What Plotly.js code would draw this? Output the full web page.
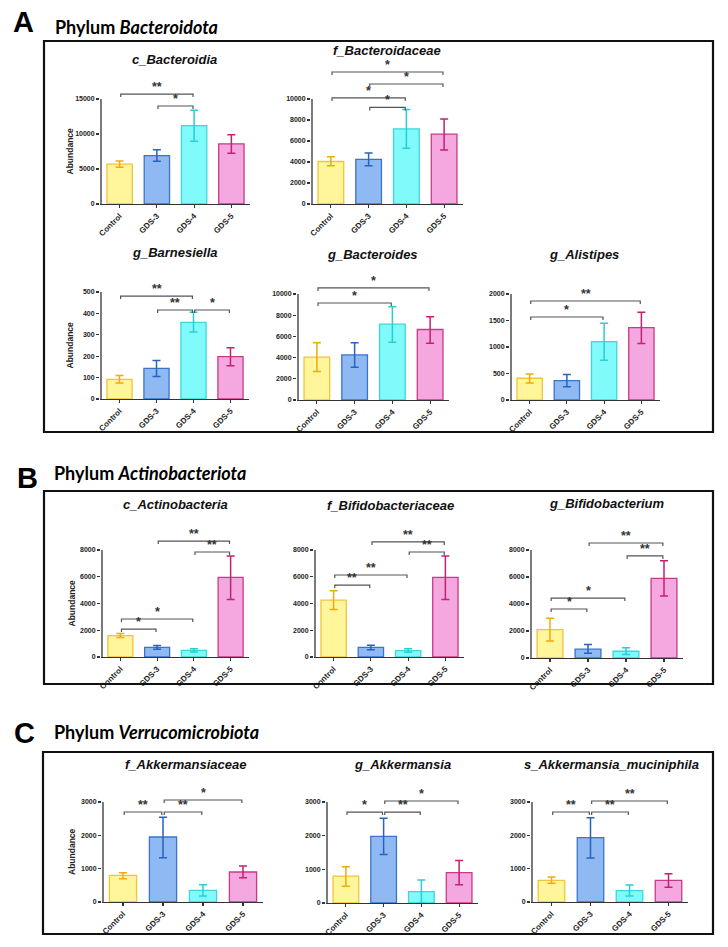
<!DOCTYPE html>
<html><head><meta charset="utf-8">
<script src="https://cdn.plot.ly/plotly-3.0.1.min.js"></script>
<style>html,body{margin:0;padding:0;background:#fff;} #chart{width:728px;height:947px;}</style>
</head><body><div id="chart"></div>
<script>
// ---------------- DATA ----------------
const groups = ['Control', 'GDS-3', 'GDS-4', 'GDS-5'];
const panelLetters = ['A', 'B', 'C'];
const phyla = ['Bacteroidota', 'Actinobacteriota', 'Verrucomicrobiota'];
const taxa = ['c_Bacteroidia', 'f_Bacteroidaceae', 'g_Barnesiella', 'g_Bacteroides', 'g_Alistipes',
  'c_Actinobacteria', 'f_Bifidobacteriaceae', 'g_Bifidobacterium',
  'f_Akkermansiaceae', 'g_Akkermansia', 's_Akkermansia_muciniphila'];
const yTitle = 'Abundance';

// mean, upper error end, lower error end
const mean_cBacteroidia = [5700, 6900, 11200, 8600];
const upper_cBacteroidia = [6150, 7750, 13400, 9900];
const lower_cBacteroidia = [5250, 6100, 8950, 7250];
const sig_cBacteroidia = [[0, 2, 15700, '**'], [1, 2, 14000, '*']];

const mean_fBacteroidaceae = [4050, 4250, 7150, 6650];
const upper_fBacteroidaceae = [4500, 4850, 9000, 8100];
const lower_fBacteroidaceae = [3650, 3650, 5300, 5150];
const sig_fBacteroidaceae = [[0, 3, 12570, '*'], [1, 3, 11430, '*'], [0, 2, 10100, '*'], [1, 2, 9200, '*']];

const mean_gBarnesiella = [92, 143, 358, 198];
const upper_gBarnesiella = [110, 180, 405, 240];
const lower_gBarnesiella = [75, 105, 313, 155];
const sig_gBarnesiella = [[0, 2, 481, '**'], [1, 2, 416, '**'], [2, 3, 416, '*']];

const mean_gBacteroides = [4050, 4250, 7150, 6650];
const upper_gBacteroides = [5400, 5400, 8800, 7850];
const lower_gBacteroides = [2700, 3100, 5450, 5350];
const sig_gBacteroides = [[0, 3, 10570, '*'], [0, 2, 9150, '*']];

const mean_gAlistipes = [410, 365, 1100, 1365];
const upper_gAlistipes = [490, 480, 1450, 1655];
const lower_gAlistipes = [320, 250, 750, 1065];
const sig_gAlistipes = [[0, 3, 1868, '**'], [0, 2, 1566, '*']];

const mean_cActinobacteria = [1600, 720, 500, 5950];
const upper_cActinobacteria = [1750, 860, 620, 7550];
const lower_cActinobacteria = [1450, 580, 380, 4300];
const sig_cActinobacteria = [[1, 3, 8670, '**'], [2, 3, 7850, '**'], [0, 2, 2840, '*'], [0, 1, 2090, '*']];

const mean_fBifidobacteriaceae = [4250, 720, 480, 5950];
const upper_fBifidobacteriaceae = [4950, 870, 620, 7550];
const lower_fBifidobacteriaceae = [3550, 550, 350, 4300];
const sig_fBifidobacteriaceae = [[1, 3, 8600, '**'], [2, 3, 7850, '**'], [0, 2, 6130, '**'], [0, 1, 5380, '**']];

const mean_gBifidobacterium = [2100, 650, 500, 5900];
const upper_gBifidobacterium = [2950, 1000, 750, 7200];
const lower_gBifidobacterium = [1250, 350, 250, 4600];
const sig_gBifidobacterium = [[1, 3, 8520, '**'], [2, 3, 7560, '**'], [0, 2, 4440, '*'], [0, 1, 3630, '*']];

const mean_fAkkermansiaceae = [800, 1950, 350, 900];
const upper_fAkkermansiaceae = [880, 2540, 520, 1080];
const lower_fAkkermansiaceae = [700, 1330, 180, 730];
const sig_fAkkermansiaceae = [[1, 3, 3060, '*'], [0, 1, 2700, '**'], [1, 2, 2700, '**']];

const mean_gAkkermansia = [800, 1980, 340, 900];
const upper_gAkkermansia = [1080, 2520, 680, 1260];
const lower_gAkkermansia = [500, 1440, 0, 540];
const sig_gAkkermansia = [[1, 3, 3030, '*'], [0, 1, 2700, '*'], [1, 2, 2700, '**']];

const mean_sAmuciniphila = [650, 1930, 340, 650];
const upper_sAmuciniphila = [750, 2530, 510, 850];
const lower_sAmuciniphila = [560, 1320, 180, 440];
const sig_sAmuciniphila = [[1, 3, 3030, '**'], [0, 1, 2700, '**'], [1, 2, 2700, '**']];

const yTopTicks = [15000, 10000, 500, 10000, 2000, 8000, 8000, 8000, 3000, 3000, 3000];
const yDticks = [5000, 2000, 100, 2000, 500, 2000, 2000, 2000, 1000, 1000, 1000];

const allMeans = [mean_cBacteroidia, mean_fBacteroidaceae, mean_gBarnesiella, mean_gBacteroides, mean_gAlistipes,
  mean_cActinobacteria, mean_fBifidobacteriaceae, mean_gBifidobacterium, mean_fAkkermansiaceae, mean_gAkkermansia, mean_sAmuciniphila];
const allUpper = [upper_cBacteroidia, upper_fBacteroidaceae, upper_gBarnesiella, upper_gBacteroides, upper_gAlistipes,
  upper_cActinobacteria, upper_fBifidobacteriaceae, upper_gBifidobacterium, upper_fAkkermansiaceae, upper_gAkkermansia, upper_sAmuciniphila];
const allLower = [lower_cBacteroidia, lower_fBacteroidaceae, lower_gBarnesiella, lower_gBacteroides, lower_gAlistipes,
  lower_cActinobacteria, lower_fBifidobacteriaceae, lower_gBifidobacterium, lower_fAkkermansiaceae, lower_gAkkermansia, lower_sAmuciniphila];
const allSig = [sig_cBacteroidia, sig_fBacteroidaceae, sig_gBarnesiella, sig_gBacteroides, sig_gAlistipes,
  sig_cActinobacteria, sig_fBifidobacteriaceae, sig_gBifidobacterium, sig_fAkkermansiaceae, sig_gAkkermansia, sig_sAmuciniphila];

// ---------------- LAYOUT GEOMETRY (pixels) ----------------
const W = 728, H = 947;
// l,r: x-axis extent; z: zero line y; t: top tick y; d: top of plot domain; tx,ty: title centre; yt: show y title
const geom = [
  {l: 101, r: 250, z: 204, t: 99, d: 70, tx: 174, ty: 59, yt: true},
  {l: 312, r: 463, z: 204, t: 99, d: 56, tx: 387, ty: 50, yt: false},
  {l: 101, r: 249, z: 399, t: 292, d: 275, tx: 175, ty: 253, yt: true},
  {l: 298, r: 449, z: 400, t: 294, d: 275, tx: 373, ty: 255, yt: false},
  {l: 511, r: 660, z: 400, t: 294, d: 280, tx: 584, ty: 255, yt: false},
  {l: 102, r: 249, z: 657, t: 550, d: 522, tx: 175, ty: 504, yt: true},
  {l: 315, r: 464, z: 657, t: 550, d: 522, tx: 390, ty: 506, yt: false},
  {l: 531, r: 683, z: 658, t: 550, d: 522, tx: 607, ty: 503, yt: false},
  {l: 103, r: 263, z: 902, t: 802, d: 782, tx: 185, ty: 764, yt: true},
  {l: 327, r: 478, z: 903, t: 802, d: 782, tx: 402, ty: 764, yt: false},
  {l: 532, r: 688, z: 902, t: 802, d: 782, tx: 611, ty: 764, yt: false}
];
const panelBoxes = [[44, 713, 41, 432], [44, 713, 491, 684], [43, 713, 752, 934]];
const panelLabelPos = [[23, 22, 53, 27], [27, 478, 52, 473], [24, 733, 52, 732]];

const fills = ['#FFF59A', '#8FB9F3', '#80FAFA', '#F5A8E0'];
const borders = ['#F2C43A', '#3A74CA', '#3ED6DA', '#C93A86'];
const errCols = ['#EFAA12', '#2A62BE', '#2ACDD4', '#C2226F'];
const FONT = 'Liberation Sans, Arial, sans-serif';
const axisCol = '#333333';

const traces = [];
const layout = {
  width: W, height: H, margin: {l: 0, r: 0, t: 0, b: 0},
  paper_bgcolor: '#ffffff', plot_bgcolor: 'rgba(0,0,0,0)',
  showlegend: false, barmode: 'overlay',
  font: {family: FONT, color: '#222'},
  shapes: [], annotations: []
};

geom.forEach((g, i) => {
  const k = i + 1;
  const xa = 'x' + (k > 1 ? k : ''), ya = 'y' + (k > 1 ? k : '');
  const top = yTopTicks[i];
  const pxPerUnitY = (g.z - g.t) / top;
  const R = (g.z - g.d) / pxPerUnitY;
  const pxPerCat = (g.r - g.l) / 4;
  const mean = allMeans[i], up = allUpper[i], lo = allLower[i];

  groups.forEach((grp, j) => {
    traces.push({
      type: 'bar', x: [j], y: [mean[j]], width: 0.68, xaxis: xa, yaxis: ya,
      marker: {color: fills[j], line: {color: borders[j], width: 1.3}},
      error_y: {type: 'data', symmetric: false, array: [up[j] - mean[j]], arrayminus: [mean[j] - lo[j]],
        color: errCols[j], thickness: 1.5, width: 4},
      hoverinfo: 'skip', name: grp
    });
  });
  // y-axis line up to top tick (Prism style)
  traces.push({type: 'scatter', mode: 'lines', x: [-0.5, -0.5], y: [0, top], xaxis: xa, yaxis: ya,
    line: {color: axisCol, width: 1.3}, hoverinfo: 'skip'});
  // significance brackets
  const tick = 3 / pxPerUnitY;
  allSig[i].forEach(s => {
    const a = s[0] + 0.03, b = s[1] - 0.03;
    traces.push({type: 'scatter', mode: 'lines', x: [a, a, b, b], y: [s[2] - tick, s[2], s[2], s[2] - tick],
      xaxis: xa, yaxis: ya, line: {color: '#555', width: 1.2}, hoverinfo: 'skip'});
    layout.annotations.push({xref: xa, yref: ya, x: (s[0] + s[1]) / 2, y: s[2], text: '<b>' + s[3] + '</b>',
      showarrow: false, yanchor: 'middle', yshift: 7, font: {family: FONT, size: 12.5, color: '#333'}});
  });

  const tv = [];
  for (let v = 0; v <= top + 1e-9; v += yDticks[i]) tv.push(v);

  layout['xaxis' + (k > 1 ? k : '')] = {
    domain: [(g.l - 1) / W, g.r / W], range: [-0.5 - 1 / pxPerCat, 3.5], anchor: ya,
    showline: true, linecolor: axisCol, linewidth: 1.3, ticks: 'outside', ticklen: 3, tickwidth: 1.2, tickcolor: axisCol,
    tickmode: 'array', tickvals: [0, 1, 2, 3], ticktext: groups, tickangle: -45,
    tickfont: {family: FONT, size: 8, color: '#222', weight: 'bold'},
    showgrid: false, zeroline: false, fixedrange: true
  };
  layout['yaxis' + (k > 1 ? k : '')] = {
    domain: [1 - g.z / H, 1 - g.d / H], range: [0, R], anchor: xa,
    showline: false, ticks: 'outside', ticklen: 3, tickwidth: 1.2, tickcolor: axisCol,
    tickmode: 'array', tickvals: tv, ticktext: tv.map(v => String(v)),
    tickfont: {family: FONT, size: 7, color: '#222', weight: 'bold'},
    showgrid: false, zeroline: false, fixedrange: true
  };
  layout.annotations.push({xref: 'paper', yref: 'paper', x: g.tx / W, y: 1 - g.ty / H,
    text: '<b><i>' + taxa[i] + '</i></b>', showarrow: false, xanchor: 'center', yanchor: 'middle',
    font: {family: FONT, size: 13, color: '#111'}});
  if (g.yt) {
    layout.annotations.push({xref: 'paper', yref: 'paper', x: (g.l - 31) / W, y: 1 - ((g.z + g.t) / 2) / H,
      text: '<b>' + yTitle + '</b>', textangle: -90, showarrow: false, xanchor: 'center', yanchor: 'middle',
      font: {family: FONT, size: 8.5, color: '#222'}});
  }
});

panelBoxes.forEach((b, p) => {
  layout.shapes.push({type: 'rect', xref: 'paper', yref: 'paper', x0: b[0] / W, x1: b[1] / W,
    y0: 1 - b[3] / H, y1: 1 - b[2] / H, line: {color: '#111', width: 2.2}, fillcolor: 'rgba(0,0,0,0)'});
  const lp = panelLabelPos[p];
  layout.annotations.push({xref: 'paper', yref: 'paper', x: lp[0] / W, y: 1 - lp[1] / H,
    text: '<b>' + panelLetters[p] + '</b>', showarrow: false, xanchor: 'center', yanchor: 'middle',
    font: {family: FONT, size: 29, color: '#000'}});
  layout.annotations.push({xref: 'paper', yref: 'paper', x: lp[2] / W, y: 1 - lp[3] / H,
    text: '<b>Phylum <i>' + phyla[p] + '</i></b>', showarrow: false, xanchor: 'left', yanchor: 'middle',
    font: {family: 'Lato, sans-serif', size: 18, color: '#000'}});
});

Plotly.newPlot('chart', traces, layout, {staticPlot: true, displayModeBar: false});
</script>
</body></html>
